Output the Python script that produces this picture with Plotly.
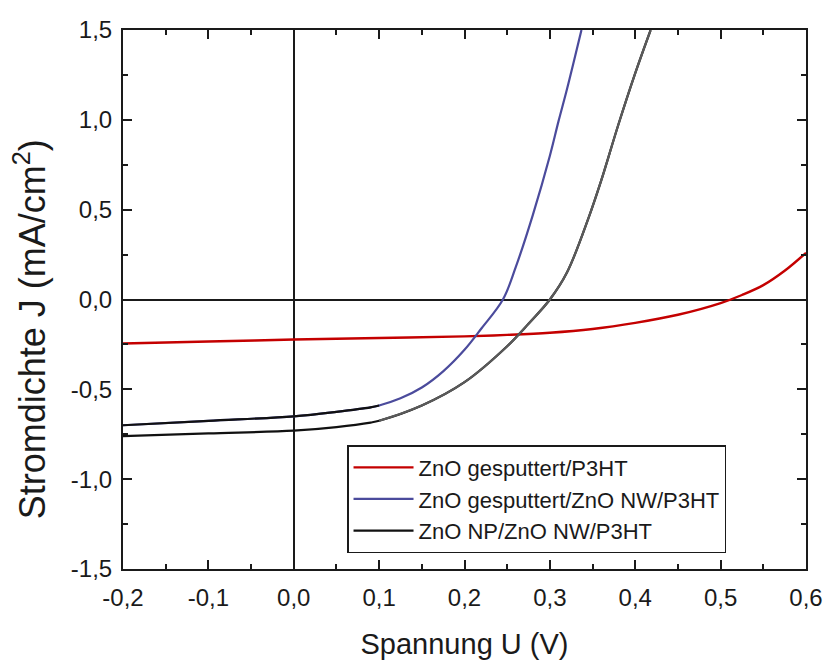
import plotly.graph_objects as go

# J-U curves (voltage in V, current density in mA/cm^2)
u_red = [-0.2, -0.1, 0.0, 0.1, 0.2, 0.25, 0.3, 0.35, 0.4, 0.45, 0.5, 0.525, 0.55, 0.575, 0.6]
j_red = [-0.245, -0.234, -0.223, -0.214, -0.205, -0.197, -0.185, -0.164, -0.13, -0.085, -0.02, 0.025, 0.08, 0.16, 0.26]

u_blue = [-0.2, -0.1, 0.0, 0.05, 0.09, 0.1, 0.125, 0.15, 0.175, 0.2, 0.22, 0.245, 0.26, 0.28, 0.3, 0.31, 0.32, 0.337]
j_blue = [-0.70, -0.675, -0.65, -0.625, -0.6, -0.59, -0.55, -0.49, -0.4, -0.28, -0.16, 0.0, 0.18, 0.47, 0.8, 0.99, 1.17, 1.5]

u_gray = [-0.2, -0.1, 0.0, 0.05, 0.09, 0.1, 0.15, 0.2, 0.25, 0.275, 0.3, 0.32, 0.345, 0.36, 0.38, 0.4, 0.418]
j_gray = [-0.76, -0.745, -0.73, -0.71, -0.685, -0.675, -0.59, -0.46, -0.26, -0.135, 0.0, 0.15, 0.45, 0.66, 0.97, 1.26, 1.5]

names = ["ZnO gesputtert/P3HT", "ZnO gesputtert/ZnO NW/P3HT", "ZnO NP/ZnO NW/P3HT"]

x_ticks = [-0.2, -0.1, 0.0, 0.1, 0.2, 0.3, 0.4, 0.5, 0.6]
x_labels = ["-0,2", "-0,1", "0,0", "0,1", "0,2", "0,3", "0,4", "0,5", "0,6"]
y_ticks = [-1.5, -1.0, -0.5, 0.0, 0.5, 1.0, 1.5]
y_labels = ["-1,5", "-1,0", "-0,5", "0,0", "0,5", "1,0", "1,5"]

FONT = "Arial, Liberation Sans, sans-serif"
INK = "#1a1a1a"

fig = go.Figure()
fig.add_trace(go.Scatter(x=u_red, y=j_red, mode="lines", name=names[0],
                         line=dict(color="#c40000", width=2.4, shape="spline")))
fig.add_trace(go.Scatter(x=u_blue, y=j_blue, mode="lines", name=names[1],
                         line=dict(color="#4b4b9c", width=2.2, shape="spline")))
fig.add_trace(go.Scatter(x=u_gray, y=j_gray, mode="lines", name=names[2],
                         line=dict(color="#111111", width=2.2, shape="spline")))
# the low-voltage part of the two NW curves is drawn black in the original
fig.add_trace(go.Scatter(x=u_blue[:6], y=j_blue[:6], mode="lines", showlegend=False,
                         line=dict(color="#111111", width=2.2, shape="spline")))
fig.add_trace(go.Scatter(x=u_gray[5:], y=j_gray[5:], mode="lines", showlegend=False,
                         line=dict(color="#5a5a5a", width=2.2, shape="spline")))

axis_common = dict(
    showline=True, linecolor=INK, linewidth=2, mirror="ticks",
    ticks="inside", ticklen=9, tickwidth=2, tickcolor=INK,
    showgrid=False, zeroline=True, zerolinecolor=INK, zerolinewidth=2,
    tickfont=dict(family=FONT, size=24, color=INK),
    automargin=False,
)

fig.update_xaxes(range=[-0.2, 0.6], tickvals=x_ticks, ticktext=x_labels,
                 ticklabelstandoff=6,
                 minor=dict(dtick=0.05, tick0=0, ticks="inside", ticklen=5, tickwidth=2, tickcolor=INK),
                 title=dict(text="Spannung U (V)", font=dict(family=FONT, size=29, color=INK), standoff=24),
                 **axis_common)
fig.update_yaxes(range=[-1.5, 1.5], tickvals=y_ticks, ticktext=y_labels,
                 ticklabelstandoff=4,
                 minor=dict(dtick=0.25, tick0=0, ticks="inside", ticklen=5, tickwidth=2, tickcolor=INK),
                 **axis_common)

# y title as an annotation so it can sit a little below the plot centre, as in the original
fig.add_annotation(text="Stromdichte J (mA/cm<sup>2</sup>)", textangle=-90,
                   xref="paper", yref="paper", x=-0.136, y=0.445,
                   xanchor="center", yanchor="middle", showarrow=False,
                   font=dict(family=FONT, size=36, color=INK))

fig.update_layout(
    width=828, height=660,
    template="plotly_white",
    plot_bgcolor="white", paper_bgcolor="white",
    margin=dict(l=123, r=22, t=30, b=91),
    font=dict(family=FONT, color=INK),
    legend=dict(
        x=0.328, y=0.23, xanchor="left", yanchor="top",
        bgcolor="white", bordercolor=INK, borderwidth=1.5,
        font=dict(family=FONT, size=22, color=INK),
        itemwidth=60, tracegroupgap=0,
        entrywidth=340, entrywidthmode="pixels",
    ),
)

fig.write_html("out.html", config={"displayModeBar": False},
               post_script="document.body.style.margin = '0';")
